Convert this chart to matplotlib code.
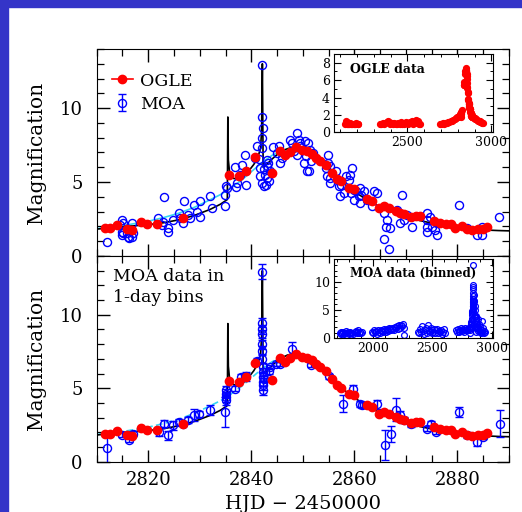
import matplotlib
matplotlib.use("Agg")
import matplotlib.pyplot as plt
from matplotlib.lines import Line2D
from matplotlib.patches import Rectangle
from matplotlib.ticker import MultipleLocator

plt.rcParams['font.family'] = ['DejaVu Serif']

# ---- OGLE points around the event (HJD - 2450000, magnification)
ogle_t = [2811.6, 2812.6, 2813.9, 2815.8, 2816.9, 2818.6, 2819.8, 2821.8, 2826.8,
          2835.7, 2837.7, 2838.9, 2840.8, 2844.0, 2845.6, 2846.6, 2847.6, 2848.6,
          2849.8, 2850.8, 2851.8, 2852.6, 2853.4, 2854.5, 2855.7, 2856.6, 2857.5,
          2858.9, 2859.9, 2862.5, 2863.4, 2864.7, 2865.7, 2866.7, 2868.0, 2868.9,
          2869.6, 2870.9, 2871.9, 2872.8, 2875.4, 2876.7, 2877.7, 2878.7, 2879.6,
          2880.9, 2881.9, 2882.9, 2883.9, 2884.9, 2885.8]
ogle_a = [1.92, 1.92, 2.10, 1.85, 1.76, 2.30, 2.14, 2.19, 2.60,
          5.46, 5.42, 5.76, 6.70, 5.58, 7.07, 6.80, 7.06, 7.34,
          7.14, 7.07, 6.92, 6.65, 6.45, 6.15, 5.64, 5.19, 5.05,
          4.63, 4.51, 3.84, 3.72, 3.27, 3.39, 3.27, 3.05, 2.93,
          2.82, 2.64, 2.71, 2.71, 2.37, 2.26, 2.19, 2.14, 1.92,
          2.03, 1.85, 1.74, 1.81, 1.81, 1.96]

# ---- MOA unbinned points (top panel)
moa_t = [2812.0, 2814.5, 2814.9, 2814.9, 2814.9, 2815.2, 2815.1, 2815.8, 2816.1, 2816.2,
         2816.9, 2816.9, 2817.1, 2821.9, 2822.6, 2822.9, 2823.0, 2823.9, 2823.9, 2824.9,
         2825.9, 2826.2, 2826.8, 2827.0, 2827.8, 2828.1, 2828.8, 2829.4, 2830.1, 2830.1,
         2832.0, 2832.4, 2834.9, 2834.9, 2835.1, 2835.3, 2836.9, 2837.2, 2837.1, 2837.8,
         2838.2, 2838.8, 2839.0, 2840.8, 2841.1, 2841.4, 2841.7, 2841.7, 2842.1, 2842.1,
         2842.2, 2842.1, 2842.1, 2842.1, 2842.4, 2842.7, 2843.0, 2843.0, 2843.0, 2843.4,
         2843.7, 2842.5, 2842.8, 2843.2, 2844.3, 2845.0, 2845.3, 2845.6, 2846.0, 2847.6,
         2847.9, 2848.2, 2848.9, 2848.9, 2849.2, 2849.4, 2849.5, 2850.1, 2850.2, 2850.5,
         2850.7, 2850.8, 2851.0, 2851.3, 2851.6, 2851.1, 2851.9, 2854.4, 2854.7, 2854.9,
         2854.9, 2855.2, 2855.3, 2855.2, 2856.5, 2856.8, 2857.0, 2857.2, 2857.5, 2857.9,
         2858.4, 2858.9, 2859.2, 2859.5, 2859.4, 2859.9, 2860.0, 2860.4, 2860.8, 2861.0,
         2861.1, 2861.3, 2861.8, 2862.5, 2863.4, 2863.9, 2864.4, 2865.7, 2865.8, 2866.3,
         2866.2, 2866.7, 2867.0, 2868.3, 2868.9, 2869.3, 2869.6, 2870.2, 2871.2, 2874.1,
         2874.1, 2874.1, 2874.1, 2874.7, 2875.0, 2875.7, 2876.0, 2876.0, 2880.3, 2881.9,
         2883.8, 2884.8, 2884.8, 2888.0]
moa_a = [0.95, 2.10, 2.44, 1.65, 1.43, 2.20, 1.58, 1.54, 1.31, 1.20,
         2.22, 1.31, 1.58, 2.56, 2.10, 2.33, 3.98, 1.88, 1.65, 2.44,
         2.90, 2.56, 2.22, 3.69, 2.78, 2.56, 3.46, 3.00, 3.69, 2.67,
         4.03, 3.24, 4.14, 3.35, 4.75, 4.59, 6.02, 4.93, 4.70, 5.50,
         6.18, 6.86, 4.82, 6.63, 7.42, 6.56, 5.95, 5.38, 12.94, 9.41,
         8.67, 7.99, 7.31, 4.93, 4.71, 5.50, 6.06, 6.52, 5.27, 5.05,
         5.72, 5.90, 4.80, 6.30, 7.38, 6.97, 7.42, 6.29, 6.63, 7.87,
         7.65, 7.08, 8.33, 6.86, 7.87, 7.65, 7.42, 7.20, 6.29, 7.76,
         6.74, 5.72, 7.65, 7.20, 6.40, 5.72, 6.97, 5.95, 5.38, 6.86,
         6.29, 6.06, 4.93, 5.27, 5.72, 5.16, 4.71, 4.03, 4.82, 4.25,
         5.38, 5.16, 5.50, 5.95, 4.25, 4.48, 3.80, 4.37, 4.03, 4.59,
         3.57, 4.14, 4.37, 3.80, 3.35, 4.37, 4.25, 2.90, 1.15, 2.44,
         1.99, 0.50, 1.88, 3.12, 2.22, 4.14, 2.44, 2.78, 1.99, 2.90,
         2.44, 1.99, 1.65, 2.67, 1.99, 1.76, 1.43, 2.26, 3.46, 1.88,
         1.43, 1.43, 1.99, 2.62]

# ---- MOA 1-day bins (bottom panel)
moab_t = [2812.1, 2814.9, 2816.2, 2817.0, 2822.0, 2823.0, 2823.9, 2824.9, 2825.9, 2826.8,
          2827.8, 2828.8, 2829.8, 2832.0, 2834.9, 2835.0, 2835.0, 2835.0, 2835.0, 2836.8,
          2838.0, 2838.9, 2841.1, 2842.1, 2842.1, 2842.1, 2842.1, 2842.1, 2842.1, 2842.1,
          2842.2, 2842.2, 2842.2, 2842.2, 2842.2, 2842.2, 2842.4, 2843.4, 2843.7, 2844.7,
          2845.6, 2847.9, 2851.6, 2855.0, 2857.7, 2859.8, 2861.1, 2861.5, 2864.3, 2865.9,
          2867.1, 2868.0, 2868.9, 2869.6, 2870.9, 2874.1, 2874.9, 2875.9, 2880.3, 2881.9,
          2883.8, 2885.0, 2888.2]
moab_a = [0.90, 1.85, 1.51, 1.92, 2.03, 2.60, 1.80, 2.48, 2.70, 2.60,
          2.82, 3.16, 3.27, 3.50, 3.39, 4.18, 4.40, 4.63, 4.85, 4.97,
          5.76, 5.80, 6.88, 12.93, 9.45, 9.00, 8.69, 8.00, 7.56, 7.00,
          6.43, 6.10, 5.76, 5.42, 5.19, 4.85, 5.64, 6.20, 6.43, 6.66,
          6.66, 7.65, 6.60, 5.80, 3.95, 4.95, 3.95, 3.84, 3.90, 1.13,
          1.87, 3.54, 3.16, 2.82, 2.55, 2.26, 2.60, 2.03, 3.39, 1.80,
          1.35, 1.69, 2.60]
moab_err = [1.10, 0.15, 0.20, 0.15, 0.30, 0.25, 0.30, 0.30, 0.20, 0.20,
            0.20, 0.40, 0.20, 0.35, 1.00, 0.30, 0.35, 0.30, 0.30, 0.15,
            0.20, 0.30, 0.20, 0.50, 0.30, 0.30, 0.30, 0.30, 0.30, 0.30,
            0.30, 0.30, 0.30, 0.30, 0.30, 0.30, 0.20, 0.20, 0.15, 0.15,
            0.15, 0.50, 0.15, 0.15, 0.60, 0.30, 0.20, 0.20, 0.30, 1.00,
            0.55, 0.80, 0.30, 0.20, 0.20, 0.15, 0.15, 0.15, 0.35, 0.20,
            0.30, 0.15, 0.90]

# ---- binary-lens model (black) and single-lens model (cyan)
model_t = [2810, 2815, 2820, 2823, 2826, 2829, 2832, 2834, 2835.35, 2835.45, 2835.55,
           2835.8, 2836.5, 2837.5, 2838.5, 2839.5, 2840.5, 2841.3, 2841.8, 2842.0,
           2842.15, 2842.3, 2843, 2844, 2845, 2846, 2847, 2848, 2849, 2850, 2851,
           2852, 2853, 2854, 2855, 2856, 2857, 2858, 2859, 2860, 2862, 2864, 2866,
           2868, 2870, 2872, 2874, 2876, 2878, 2880, 2882, 2884, 2886, 2888, 2890]
model_a = [1.82, 1.98, 2.12, 2.25, 2.45, 2.75, 3.15, 3.50, 3.82, 9.40, 6.50,
           5.60, 5.25, 5.20, 5.40, 5.75, 6.20, 6.70, 7.30, 8.50,
           13.0, 6.00, 6.20, 6.55, 6.85, 7.10, 7.25, 7.35, 7.35, 7.25, 7.05,
           6.80, 6.50, 6.20, 5.90, 5.55, 5.20, 4.90, 4.60, 4.35, 3.90, 3.50, 3.15,
           2.90, 2.65, 2.45, 2.30, 2.15, 2.05, 1.95, 1.85, 1.80, 1.75, 1.72, 1.70]
single_t = [2810, 2815, 2820, 2823, 2826, 2829, 2832, 2834, 2836, 2838, 2840,
            2842, 2844, 2846, 2848, 2850, 2852]
single_a = [1.85, 2.05, 2.35, 2.60, 2.90, 3.30, 3.80, 4.15, 4.60, 5.10, 5.70,
            6.30, 6.80, 7.15, 7.35, 7.30, 6.85]

# ---- OGLE baseline seasons (inset, together with ogle_t/ogle_a)
ogle_base_t = [2128, 2133, 2137, 2141, 2146, 2152, 2158, 2165, 2172, 2180, 2188, 2196, 2203, 2207,
               2337, 2345, 2352, 2360, 2368, 2376, 2383, 2390, 2398, 2406, 2414, 2422, 2430, 2438,
               2446, 2454, 2462, 2470, 2478, 2486, 2494, 2502, 2510, 2518, 2526, 2534, 2542, 2550,
               2556, 2562, 2568, 2576,
               2695, 2702, 2710, 2718, 2726, 2734, 2742, 2750, 2758, 2766, 2774, 2782, 2790, 2797,
               2803, 2808, 2890, 2895, 2900, 2905, 2910, 2915, 2920, 2925, 2930, 2935, 2940, 2945,
               2950]
ogle_base_a = [1.0, 1.3, 1.2, 1.0, 0.9, 1.0, 1.1, 0.9, 1.0, 0.95, 1.0, 1.05, 0.95, 1.0,
               0.95, 1.0, 1.1, 1.0, 1.05, 1.2, 1.35, 1.15, 1.0, 1.05, 1.0, 1.1, 0.95, 1.0,
               1.05, 1.0, 1.15, 1.0, 0.95, 1.1, 1.2, 1.0, 1.05, 1.15, 1.3, 1.0, 1.2, 1.4,
               1.1, 1.3, 1.0, 0.9,
               0.95, 1.0, 1.05, 1.0, 1.1, 1.1, 1.15, 1.2, 1.25, 1.3, 1.4, 1.5, 1.65, 1.75,
               1.8, 1.85, 1.8, 1.7, 1.6, 1.55, 1.5, 1.4, 1.35, 1.3, 1.25, 1.2, 1.15, 1.1,
               1.05]

# ---- MOA binned seasons (inset, together with moab_t/moab_a)
moa_base_t = [1720, 1728, 1735, 1742, 1750, 1757, 1765, 1772, 1780, 1788, 1795, 1803, 1811,
              1818, 1826, 1833, 1852, 1858, 1864, 1870, 1877, 1884, 1891, 1898, 1904,
              1995, 2002, 2010, 2018, 2026, 2034, 2042, 2050, 2058, 2066, 2074, 2082, 2090,
              2098, 2106, 2114, 2122, 2130, 2138, 2146, 2154, 2162, 2170, 2178, 2186, 2194,
              2202, 2210, 2218, 2226, 2234, 2242, 2250, 2258, 2262,
              2380, 2388, 2396, 2404, 2412, 2420, 2428, 2436, 2444, 2452, 2460, 2468, 2476,
              2484, 2492, 2500, 2508, 2516, 2524, 2532, 2540, 2548, 2556, 2564, 2572, 2580,
              2588, 2596, 2604,
              2698, 2705, 2712, 2719, 2726, 2733, 2740, 2747, 2754, 2761, 2768, 2775, 2782,
              2789, 2796, 2803, 2808, 2892, 2897, 2902, 2907, 2912, 2916, 2920, 2925, 2930,
              2935, 2940]
moa_base_a = [1.0, 0.8, 1.2, 0.9, 1.1, 0.7, 1.0, 1.3, 0.9, 1.1, 0.8, 1.0, 1.2,
              0.9, 1.0, 0.8, 1.1, 1.3, 0.9, 1.2, 1.4, 1.0, 1.2, 0.9, 1.1,
              1.2, 0.9, 1.5, 1.1, 1.3, 0.8, 1.4, 1.2, 1.0, 1.5, 1.3, 1.1, 1.6,
              1.4, 1.2, 1.7, 1.5, 1.3, 1.8, 1.6, 1.4, 1.9, 1.7, 1.5, 2.0, 1.8,
              2.2, 1.6, 2.3, 1.9, 2.4, 2.1, 2.6, 1.8, 0.6,
              1.2, 0.9, 1.6, 1.1, 2.2, 1.3, 0.8, 1.5, 1.9, 1.0, 2.3, 1.4, 1.1,
              1.8, 0.9, 1.5, 1.2, 1.7, 1.0, 1.4, 1.6, 0.9, 1.3, 1.1, 1.5, 0.8,
              1.2, 1.6, 1.0,
              1.4, 1.2, 1.7, 1.3, 1.1, 1.5, 1.8, 1.3, 1.6, 1.2, 1.5, 1.9, 1.4,
              1.7, 1.5, 1.8, 1.6, 1.5, 1.2, 2.0, 1.0, 3.0, 1.4, 1.1, 1.8, 1.3,
              0.9, 1.2]

RED = '#ff0000'
BLUE = '#0000ff'
CYAN = '#33d6f5'

fig = plt.figure(figsize=(5.22, 5.12), dpi=100)
fig.patches.append(Rectangle((0, 0), 8 / 522, 1, transform=fig.transFigure,
                             color='#3434c8', zorder=0))
fig.patches.append(Rectangle((0, 1 - 7 / 512), 1, 7 / 512, transform=fig.transFigure,
                             color='#3434c8', zorder=0))

ax1 = fig.add_axes([0.1852, 0.5, 0.7899, 0.4043])
ax2 = fig.add_axes([0.1852, 0.0982, 0.7899, 0.4018])


def style_main(ax):
    ax.set_xlim(2810, 2890)
    ax.set_ylim(0, 14)
    ax.xaxis.set_major_locator(MultipleLocator(20))
    ax.xaxis.set_minor_locator(MultipleLocator(5))
    ax.yaxis.set_major_locator(MultipleLocator(5))
    ax.yaxis.set_minor_locator(MultipleLocator(1))
    ax.tick_params(which='both', direction='in', top=True, right=True, labelsize=13)
    ax.tick_params(which='major', length=9, width=1)
    ax.tick_params(which='minor', length=5, width=0.9)
    ax.tick_params(axis='y', pad=10)
    ax.tick_params(axis='x', pad=7)
    ax.set_ylabel('Magnification', fontsize=14.5, labelpad=10)


# top panel: unbinned data
ax1.plot(single_t, single_a, color=CYAN, lw=1.2, zorder=2)
ax1.plot(model_t, model_a, color='black', lw=1.2, zorder=3)
ax1.plot(moa_t, moa_a, 'o', mfc='none', mec=BLUE, ms=5.8, mew=1, zorder=4)
ax1.plot(ogle_t, ogle_a, 'o', color=RED, ms=6, zorder=5)
style_main(ax1)
ax1.tick_params(labelbottom=False)

# bottom panel: MOA in 1-day bins
ax2.plot(single_t, single_a, color=CYAN, lw=1.2, ls=(0, (4, 2)), zorder=2)
ax2.plot(model_t, model_a, color='black', lw=1.2, zorder=3)
moa_eb = ax2.errorbar(moab_t, moab_a, yerr=moab_err, fmt='o', mfc='none', mec=BLUE,
                      ecolor=BLUE, ms=5.8, mew=1, elinewidth=1, capsize=3, zorder=4)
ax2.plot(ogle_t, ogle_a, 'o', color=RED, ms=6, zorder=5)
style_main(ax2)
ax2.set_xlabel('HJD \u2212 2450000', fontsize=14, labelpad=4)
ax2.text(0.04, 0.94, 'MOA data in\n1-day bins', transform=ax2.transAxes,
         fontsize=12.5, va='top', ha='left', linespacing=1.25)

ogle_handle = Line2D([], [], color=RED, lw=1.2, marker='o', ms=6)
ax1.legend([ogle_handle, moa_eb], ['OGLE', 'MOA'], loc='upper left',
           bbox_to_anchor=(0.02, 0.92), frameon=False, fontsize=12.5,
           handlelength=1.2, handletextpad=0.4, labelspacing=0.35, borderaxespad=0)

# insets
in1 = fig.add_axes([0.6404, 0.7416, 0.3046, 0.1529])
in1.plot(ogle_base_t, ogle_base_a, 'o', color=RED, ms=4.2)
in1.plot(ogle_t, ogle_a, 'o', color=RED, ms=4.2)
in1.set_xlim(2064, 3012)
in1.set_ylim(0, 9)
in1.xaxis.set_major_locator(MultipleLocator(500))
in1.xaxis.set_minor_locator(MultipleLocator(100))
in1.yaxis.set_major_locator(MultipleLocator(2))
in1.yaxis.set_minor_locator(MultipleLocator(1))
in1.text(0.1, 0.88, 'OGLE data', transform=in1.transAxes, fontsize=9,
         fontweight='semibold', va='top', ha='left')

in2 = fig.add_axes([0.6404, 0.3393, 0.3046, 0.1543])
in2.plot(moa_base_t, moa_base_a, 'o', mfc='none', mec=BLUE, ms=4.2, mew=0.9)
in2.plot(moab_t, moab_a, 'o', mfc='none', mec=BLUE, ms=4.2, mew=0.9)
in2.set_xlim(1675, 3011)
in2.set_ylim(0, 14)
in2.xaxis.set_major_locator(MultipleLocator(500))
in2.xaxis.set_minor_locator(MultipleLocator(100))
in2.yaxis.set_major_locator(MultipleLocator(5))
in2.yaxis.set_minor_locator(MultipleLocator(1))
in2.text(0.1, 0.9, 'MOA data (binned)', transform=in2.transAxes, fontsize=8.5,
         fontweight='semibold', va='top', ha='left')

for ax in (in1, in2):
    ax.tick_params(which='both', direction='in', top=True, right=True, labelsize=9, pad=3)
    ax.tick_params(which='major', length=5, width=0.8)
    ax.tick_params(which='minor', length=2.5, width=0.7)
    for s in ax.spines.values():
        s.set_linewidth(0.8)

fig.savefig('out.png', dpi=100)
